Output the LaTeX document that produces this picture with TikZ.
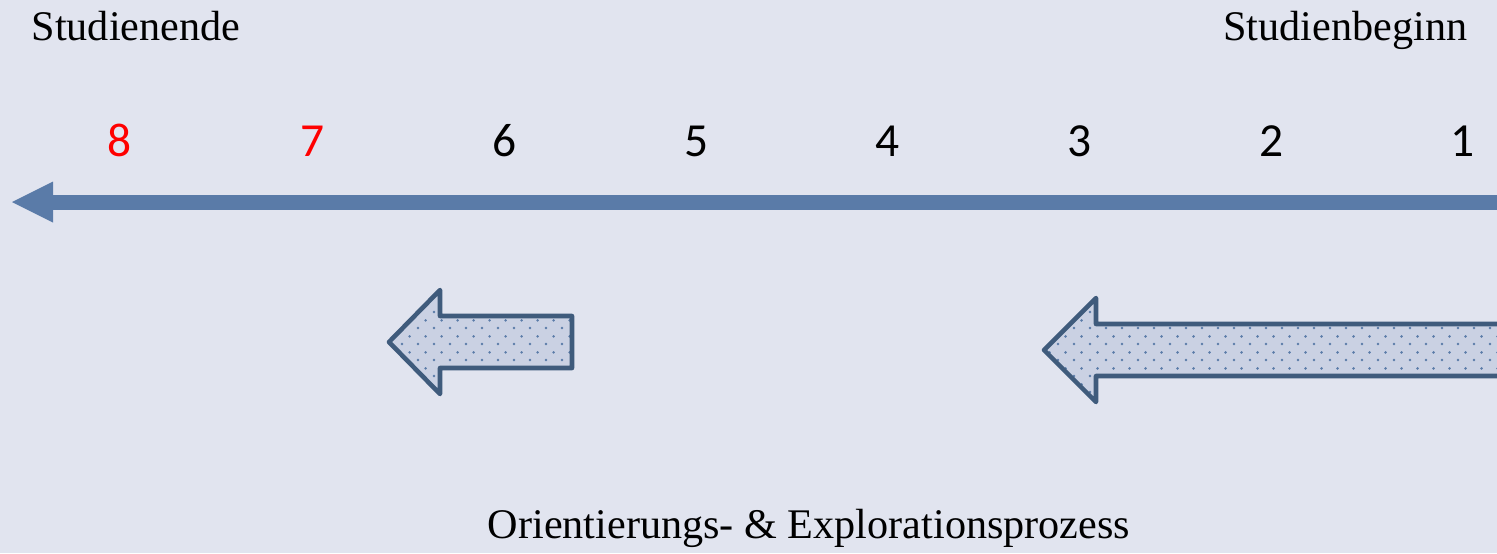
\documentclass[tikz,border=0pt]{standalone}
\usepackage{fontspec}
\setmainfont{Liberation Serif}
\newfontfamily\zahlfont{Carlito}
\usetikzlibrary{arrows.meta,patterns.meta}
\definecolor{hintergrund}{HTML}{E1E4EF}
\definecolor{achse}{HTML}{5A7BA8}
\definecolor{rand}{HTML}{3F5B7C}
\definecolor{flaeche}{HTML}{CAD1E3}
\tikzdeclarepattern{name=punkte, type=uncolored,
  bounding box={(0pt,0pt) and (4.55pt,4.55pt)}, tile size={(4.55pt,4.55pt)},
  code={\fill (0.6pt,0.6pt) circle (0.42pt); \fill (2.875pt,2.875pt) circle (0.42pt);}}
\tikzstyle{blockpfeil}=[draw=rand,line width=1.3pt,line join=round,preaction={fill=flaeche},pattern=punkte,pattern color=achse]
\tikzstyle{zeitachse}=[draw=achse,line width=0.15cm,-{Triangle[length=0.41cm,width=0.41cm,line width=0pt 0 0]}]
\tikzstyle{titel}=[inner sep=0pt,font=\fontsize{12}{14}\selectfont]
\newcommand{\drawblockpfeil}[4]{
% #1 Spitze, #2 Kopfende, #3 Schaftende, #4 Mitte
\draw[blockpfeil] (#1,#4) -- (#2,#4-52) -- (#2,#4-26) -- (#3,#4-26)
  -- (#3,#4+26) -- (#2,#4+26) -- (#2,#4+52) -- cycle;
}
\begin{document}
\begin{tikzpicture}[x=0.01cm,y=-0.01cm]
	\fill[hintergrund] (0,0) rectangle (1497,553);
	\useasboundingbox (0,0) rectangle (1497,553);
	% Zeitachse
	\coordinate (beginn) at (1520,202);
	\coordinate (ende) at (12,202);
	\draw[zeitachse] (beginn) -- (ende);
	\node[titel,anchor=base west] (studienende) at (31,40) {Studienende};
	\node[titel,anchor=base east] (studienbeginn) at (1468,40) {Studienbeginn};
	% Semester
	\foreach \s/\x/\farbe in {8/120/red,7/313/red,6/505/black,5/697/black,4/888/black,3/1080/black,2/1272/black,1/1463/black} {
	  \node[inner sep=0pt,anchor=base,text=\farbe,font=\zahlfont\fontsize{13.5}{16}\selectfont] (sem\s) at (\x,156) {\s};
	}
	% Prozesse
	\drawblockpfeil{389}{440}{572}{342}
	\drawblockpfeil{1044}{1096}{1530}{350}
	\node[titel,anchor=base] (prozess) at (809,538) {Orientierungs- \& Explorationsprozess};
\end{tikzpicture}
\end{document}
